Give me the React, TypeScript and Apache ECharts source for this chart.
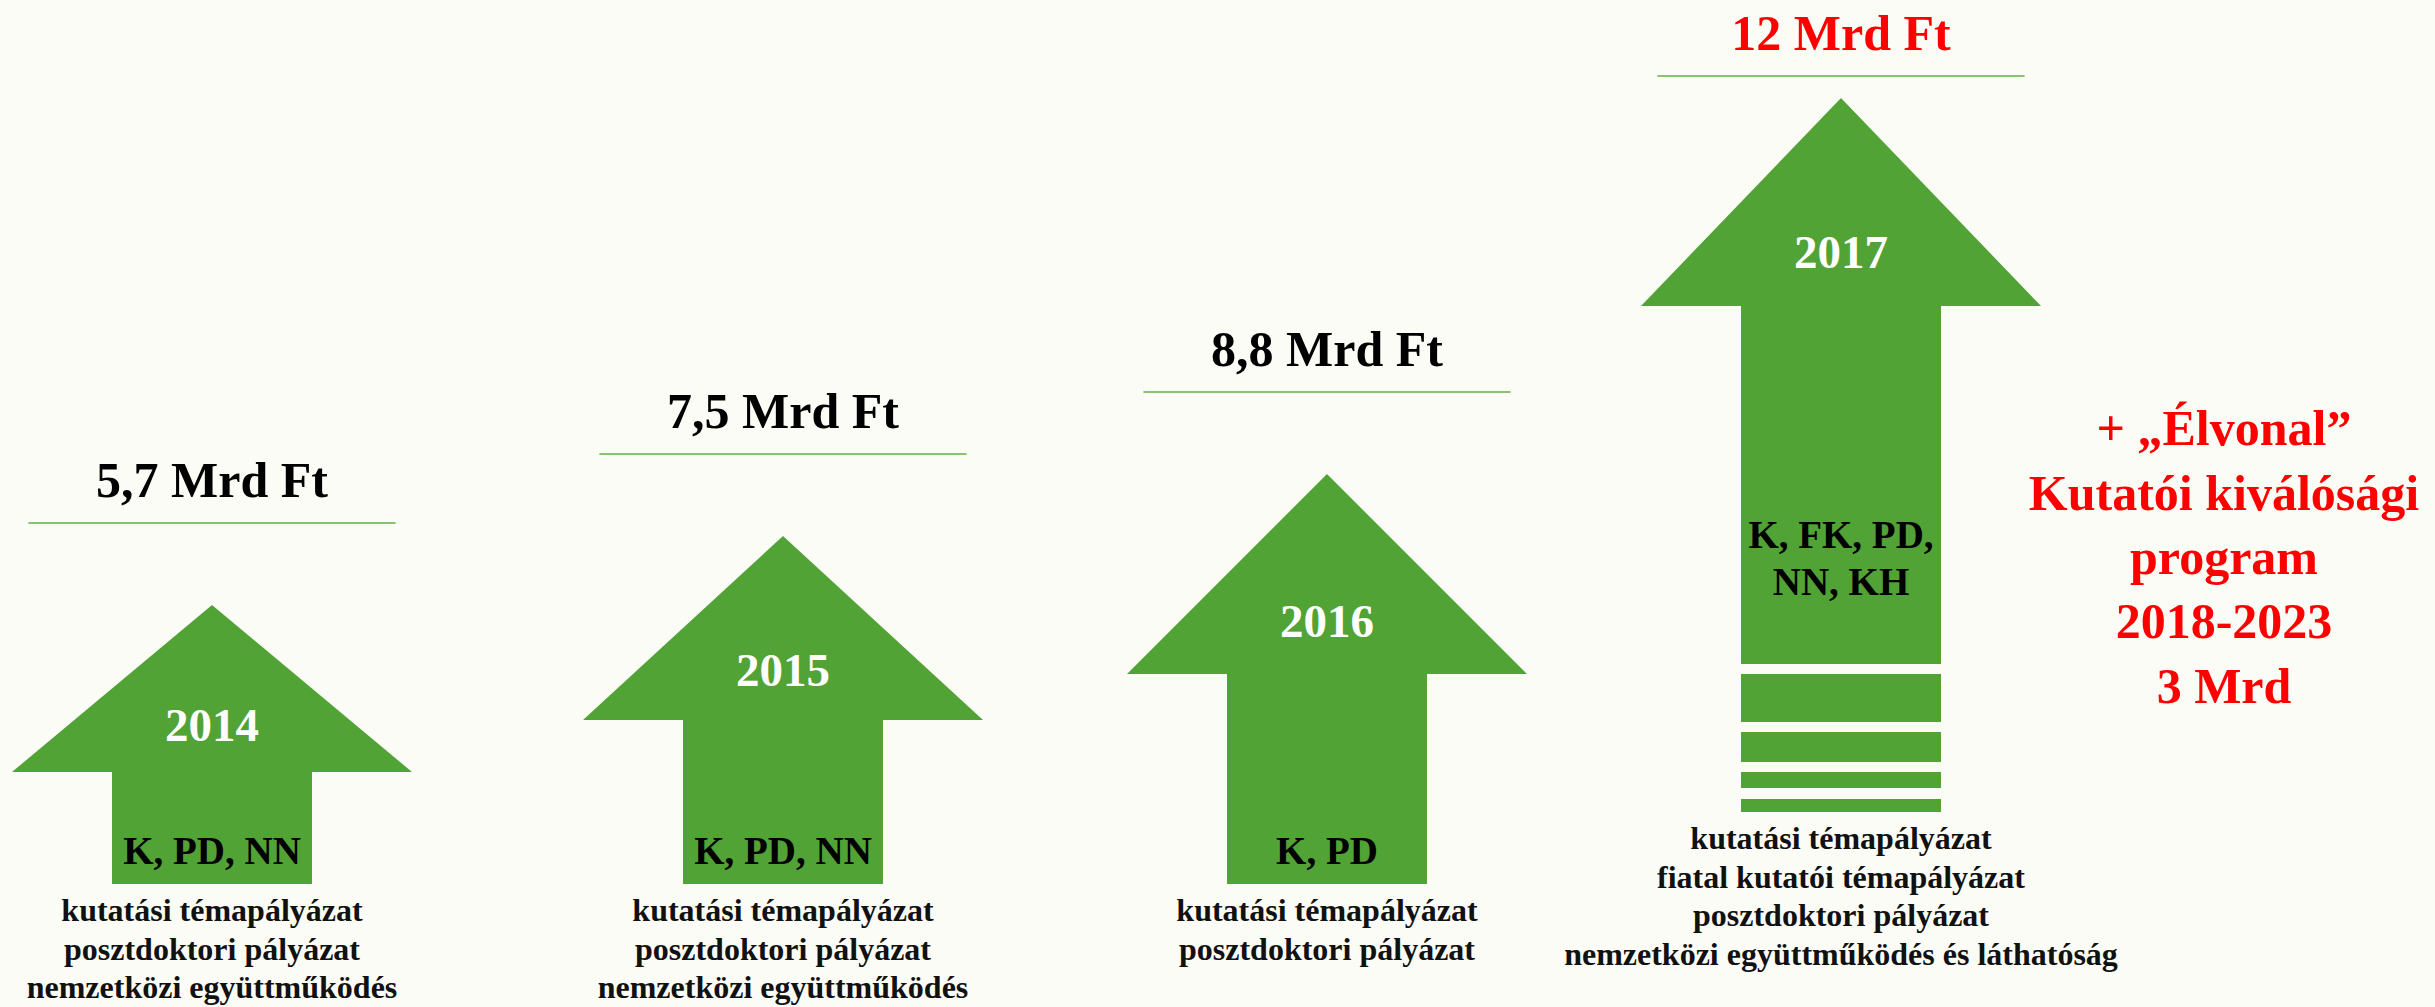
import React, { useEffect, useRef } from "react";
import * as echarts from "echarts";

// ---------- data ----------
const years = ["2014", "2015", "2016", "2017"];
const amounts = ["5,7 Mrd Ft", "7,5 Mrd Ft", "8,8 Mrd Ft", "12 Mrd Ft"];
const codes = [["K, PD, NN"], ["K, PD, NN"], ["K, PD"], ["K, FK, PD,", "NN, KH"]];
const descriptions = [
  ["kutatási témapályázat", "posztdoktori pályázat", "nemzetközi együttműködés"],
  ["kutatási témapályázat", "posztdoktori pályázat", "nemzetközi együttműködés"],
  ["kutatási témapályázat", "posztdoktori pályázat"],
  [
    "kutatási témapályázat",
    "fiatal kutatói témapályázat",
    "posztdoktori pályázat",
    "nemzetközi együttműködés és láthatóság",
  ],
];
// arrow heights (value units above the common baseline)
const arrowTip = [279, 348, 410, 786];
const arrowShoulder = [112, 164, 210, 578];
const arrowSolidBase = [0, 0, 0, 220];
const arrowStripes: number[][][] = [[], [], [], [[162, 210], [122, 152], [96, 112], [72, 85]]];
const sideNote = ["+ „Élvonal”", "Kutatói kiválósági", "program", "2018-2023", "3 Mrd"];
const highlightIndex = 3;

// ---------- layout ----------
const PANEL_LEFT = [12, 583, 1127, 1641];
const PANEL_WIDTH = 400;
const GRID_TOP = 0;
const GRID_BOTTOM = 123;
const Y_MAX = 884;

// ---------- styles ----------
const GREEN = "#52a336";
const LINE_GREEN = "#62b043";
const RED = "#ff0000";
const BG = "#fbfcf6";
const FONT = "'Liberation Serif', 'Times New Roman', serif";

export default function App() {
  const ref = useRef<HTMLDivElement>(null);

  useEffect(() => {
    if (!ref.current) return;
    const chart = echarts.init(ref.current, undefined, { renderer: "svg" });

    const renderItem = (params: any, api: any) => {
      const i = params.seriesIndex;
      const cs = params.coordSys;
      const tipVal = api.value(1);
      const [cx, tipY] = api.coord([api.value(0), tipVal]);
      const w = cs.width;
      const shoulderY = api.coord([api.value(0), arrowShoulder[i]])[1];
      const solidY = api.coord([api.value(0), arrowSolidBase[i]])[1];
      const hw = w * 0.5;
      const sw = w * 0.25;
      const children: any[] = [];

      children.push({
        type: "polygon",
        shape: {
          points: [
            [cx, tipY],
            [cx + hw, shoulderY],
            [cx + sw, shoulderY],
            [cx + sw, solidY],
            [cx - sw, solidY],
            [cx - sw, shoulderY],
            [cx - hw, shoulderY],
          ],
        },
        style: { fill: GREEN },
      });

      let bottomY = solidY;
      arrowStripes[i].forEach(([lo, hi]) => {
        const yTop = api.coord([api.value(0), hi])[1];
        const yBot = api.coord([api.value(0), lo])[1];
        bottomY = Math.max(bottomY, yBot);
        children.push({
          type: "rect",
          shape: { x: cx - sw, y: yTop, width: 2 * sw, height: yBot - yTop },
          style: { fill: GREEN },
        });
      });

      // title + rule
      const titleBase = Math.max(tipY - 108, 50);
      children.push({
        type: "text",
        style: {
          text: amounts[i],
          x: cx,
          y: titleBase - 17,
          align: "center",
          verticalAlign: "middle",
          fill: i === highlightIndex ? RED : "#000",
          fontSize: 50,
          fontWeight: "bold",
          fontFamily: FONT,
        },
      });
      children.push({
        type: "line",
        shape: { x1: cx - w * 0.459, y1: titleBase + 26, x2: cx + w * 0.459, y2: titleBase + 26 },
        style: { stroke: LINE_GREEN, lineWidth: 1.6 },
      });

      // year label in head
      const yearBase = shoulderY - 0.185 * (shoulderY - tipY);
      children.push({
        type: "text",
        style: {
          text: years[i],
          x: cx,
          y: yearBase - 16,
          align: "center",
          verticalAlign: "middle",
          fill: "#ffffff",
          fontSize: 47,
          fontWeight: "bold",
          fontFamily: FONT,
        },
      });

      // codes in shaft
      const pad = arrowStripes[i].length ? 70 : 21;
      const codeLines = codes[i];
      codeLines.forEach((line, k) => {
        const base = solidY - pad - (codeLines.length - 1 - k) * 47;
        children.push({
          type: "text",
          style: {
            text: line,
            x: cx,
            y: base - 13,
            align: "center",
            verticalAlign: "middle",
            fill: "#000",
            fontSize: 39,
            fontWeight: "bold",
            fontFamily: FONT,
          },
        });
      });

      // descriptions under arrow
      descriptions[i].forEach((line, k) => {
        const base = bottomY + 37 + k * 38.6;
        children.push({
          type: "text",
          style: {
            text: line,
            x: cx,
            y: base - 11,
            align: "center",
            verticalAlign: "middle",
            fill: "#111",
            fontSize: 32,
            fontWeight: "bold",
            fontFamily: FONT,
          },
        });
      });

      return { type: "group", children };
    };

    chart.setOption({
      animation: false,
      backgroundColor: BG,
      grid: years.map((_, i) => ({
        left: PANEL_LEFT[i],
        width: PANEL_WIDTH,
        top: GRID_TOP,
        bottom: GRID_BOTTOM,
      })),
      xAxis: years.map((y, i) => ({
        gridIndex: i,
        type: "category",
        data: [y],
        show: false,
      })),
      yAxis: years.map((_, i) => ({
        gridIndex: i,
        type: "value",
        min: 0,
        max: Y_MAX,
        show: false,
      })),
      series: years.map((y, i) => ({
        type: "custom",
        xAxisIndex: i,
        yAxisIndex: i,
        clip: false,
        renderItem,
        data: [[y, arrowTip[i]]],
      })),
      graphic: [
        {
          type: "text",
          x: 2224,
          y: 557,
          style: {
            text: sideNote.join("\n"),
            x: 0,
            y: 0,
            align: "center",
            verticalAlign: "middle",
            fill: RED,
            fontSize: 50,
            fontWeight: "bold",
            fontFamily: FONT,
            lineHeight: 64.3,
          },
        },
      ],
    });

    return () => chart.dispose();
  }, []);

  return (
    <div
      ref={ref}
      style={{ position: "fixed", left: 0, top: 0, width: 2435, height: 1007, background: BG }}
    />
  );
}
